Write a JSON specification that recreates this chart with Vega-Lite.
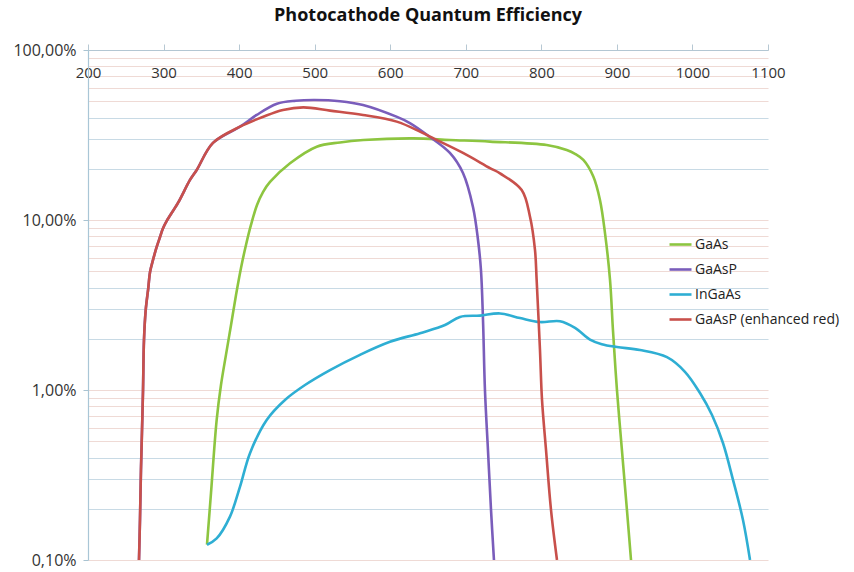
{
  "$schema": "https://vega.github.io/schema/vega-lite/v6.json",
  "autosize": {"type": "none"},
  "padding": {"left": 88, "top": 50, "right": 86, "bottom": 12},
  "width": 680,
  "height": 510,
  "background": "white",
  "title": {"text": "Photocathode Quantum Efficiency", "fontSize": 18, "fontWeight": "bold", "font": "Open Sans", "color": "#111", "anchor": "middle", "offset": 17},
  "config": {"view": {"stroke": null}},
  "data": {"values": [
    {"s": "GaAs", "wl": 357.5, "qe": 0.00123},
    {"s": "GaAs", "wl": 362.8, "qe": 0.00248},
    {"s": "GaAs", "wl": 370.3, "qe": 0.00667},
    {"s": "GaAs", "wl": 376, "qe": 0.0107},
    {"s": "GaAs", "wl": 382.6, "qe": 0.0161},
    {"s": "GaAs", "wl": 389.3, "qe": 0.0241},
    {"s": "GaAs", "wl": 395.9, "qe": 0.0362},
    {"s": "GaAs", "wl": 402.5, "qe": 0.0522},
    {"s": "GaAs", "wl": 409.1, "qe": 0.0713},
    {"s": "GaAs", "wl": 415.7, "qe": 0.0935},
    {"s": "GaAs", "wl": 423.7, "qe": 0.1226},
    {"s": "GaAs", "wl": 431.6, "qe": 0.146},
    {"s": "GaAs", "wl": 440.9, "qe": 0.1674},
    {"s": "GaAs", "wl": 467.4, "qe": 0.2156},
    {"s": "GaAs", "wl": 502.7, "qe": 0.27},
    {"s": "GaAs", "wl": 533.5, "qe": 0.286},
    {"s": "GaAs", "wl": 564.4, "qe": 0.2955},
    {"s": "GaAs", "wl": 630.5, "qe": 0.302},
    {"s": "GaAs", "wl": 679.1, "qe": 0.2955},
    {"s": "GaAs", "wl": 732, "qe": 0.289},
    {"s": "GaAs", "wl": 807.1, "qe": 0.276},
    {"s": "GaAs", "wl": 833.6, "qe": 0.258},
    {"s": "GaAs", "wl": 844.6, "qe": 0.245},
    {"s": "GaAs", "wl": 855.6, "qe": 0.2254},
    {"s": "GaAs", "wl": 868.8, "qe": 0.18},
    {"s": "GaAs", "wl": 877.6, "qe": 0.131},
    {"s": "GaAs", "wl": 884.3, "qe": 0.0835},
    {"s": "GaAs", "wl": 890.9, "qe": 0.0444},
    {"s": "GaAs", "wl": 894.8, "qe": 0.0225},
    {"s": "GaAs", "wl": 900.1, "qe": 0.00999},
    {"s": "GaAs", "wl": 906.7, "qe": 0.00441},
    {"s": "GaAs", "wl": 913.3, "qe": 0.00197},
    {"s": "GaAs", "wl": 918.7, "qe": 0.001},

    {"s": "GaAsP", "wl": 267.5, "qe": 0.001},
    {"s": "GaAsP", "wl": 268.8, "qe": 0.00172},
    {"s": "GaAsP", "wl": 270.1, "qe": 0.00339},
    {"s": "GaAsP", "wl": 271.5, "qe": 0.00582},
    {"s": "GaAsP", "wl": 272.8, "qe": 0.00987},
    {"s": "GaAsP", "wl": 274.1, "qe": 0.0197},
    {"s": "GaAsP", "wl": 276.4, "qe": 0.0296},
    {"s": "GaAsP", "wl": 279.8, "qe": 0.0398},
    {"s": "GaAsP", "wl": 282.1, "qe": 0.0494},
    {"s": "GaAsP", "wl": 286.4, "qe": 0.059},
    {"s": "GaAsP", "wl": 290.9, "qe": 0.0694},
    {"s": "GaAsP", "wl": 295.3, "qe": 0.0794},
    {"s": "GaAsP", "wl": 298.9, "qe": 0.0885},
    {"s": "GaAsP", "wl": 304.2, "qe": 0.0987},
    {"s": "GaAsP", "wl": 319.1, "qe": 0.126},
    {"s": "GaAsP", "wl": 335, "qe": 0.172},
    {"s": "GaAsP", "wl": 343.9, "qe": 0.197},
    {"s": "GaAsP", "wl": 365.4, "qe": 0.284},
    {"s": "GaAsP", "wl": 401.2, "qe": 0.354},
    {"s": "GaAsP", "wl": 423.3, "qe": 0.415},
    {"s": "GaAsP", "wl": 450.1, "qe": 0.483},
    {"s": "GaAsP", "wl": 475, "qe": 0.503},
    {"s": "GaAsP", "wl": 500, "qe": 0.508},
    {"s": "GaAsP", "wl": 533.5, "qe": 0.5},
    {"s": "GaAsP", "wl": 564, "qe": 0.475},
    {"s": "GaAsP", "wl": 609, "qe": 0.404},
    {"s": "GaAsP", "wl": 626, "qe": 0.372},
    {"s": "GaAsP", "wl": 652.6, "qe": 0.308},
    {"s": "GaAsP", "wl": 679, "qe": 0.248},
    {"s": "GaAsP", "wl": 696.3, "qe": 0.189},
    {"s": "GaAsP", "wl": 709.6, "qe": 0.119},
    {"s": "GaAsP", "wl": 716.2, "qe": 0.0763},
    {"s": "GaAsP", "wl": 720.1, "qe": 0.0508},
    {"s": "GaAsP", "wl": 722.8, "qe": 0.0258},
    {"s": "GaAsP", "wl": 725.4, "qe": 0.00994},
    {"s": "GaAsP", "wl": 729.4, "qe": 0.00441},
    {"s": "GaAsP", "wl": 733.4, "qe": 0.00197},
    {"s": "GaAsP", "wl": 737.3, "qe": 0.001},

    {"s": "InGaAs", "wl": 357.5, "qe": 0.00123},
    {"s": "InGaAs", "wl": 370.3, "qe": 0.00134},
    {"s": "InGaAs", "wl": 387.9, "qe": 0.0018},
    {"s": "InGaAs", "wl": 401.2, "qe": 0.0027},
    {"s": "InGaAs", "wl": 414.4, "qe": 0.00425},
    {"s": "InGaAs", "wl": 436.5, "qe": 0.00667},
    {"s": "InGaAs", "wl": 460.7, "qe": 0.00874},
    {"s": "InGaAs", "wl": 487.2, "qe": 0.0107},
    {"s": "InGaAs", "wl": 520.3, "qe": 0.0131},
    {"s": "InGaAs", "wl": 560, "qe": 0.0161},
    {"s": "InGaAs", "wl": 599.7, "qe": 0.0192},
    {"s": "InGaAs", "wl": 639.4, "qe": 0.0216},
    {"s": "InGaAs", "wl": 672.5, "qe": 0.0241},
    {"s": "InGaAs", "wl": 692.3, "qe": 0.0269},
    {"s": "InGaAs", "wl": 718.8, "qe": 0.0274},
    {"s": "InGaAs", "wl": 745.3, "qe": 0.0282},
    {"s": "InGaAs", "wl": 771.8, "qe": 0.0265},
    {"s": "InGaAs", "wl": 798.2, "qe": 0.0251},
    {"s": "InGaAs", "wl": 824.7, "qe": 0.0254},
    {"s": "InGaAs", "wl": 844.6, "qe": 0.0232},
    {"s": "InGaAs", "wl": 864.4, "qe": 0.0198},
    {"s": "InGaAs", "wl": 880, "qe": 0.0186},
    {"s": "InGaAs", "wl": 900.1, "qe": 0.0179},
    {"s": "InGaAs", "wl": 930.6, "qe": 0.0172},
    {"s": "InGaAs", "wl": 966.3, "qe": 0.0156},
    {"s": "InGaAs", "wl": 990.1, "qe": 0.0128},
    {"s": "InGaAs", "wl": 1010, "qe": 0.0096},
    {"s": "InGaAs", "wl": 1025.9, "qe": 0.00713},
    {"s": "InGaAs", "wl": 1040.4, "qe": 0.00488},
    {"s": "InGaAs", "wl": 1053.7, "qe": 0.00296},
    {"s": "InGaAs", "wl": 1066.9, "qe": 0.00172},
    {"s": "InGaAs", "wl": 1076.2, "qe": 0.001},

    {"s": "GaAsP (enhanced red)", "wl": 267.5, "qe": 0.001},
    {"s": "GaAsP (enhanced red)", "wl": 268.8, "qe": 0.00172},
    {"s": "GaAsP (enhanced red)", "wl": 270.1, "qe": 0.00339},
    {"s": "GaAsP (enhanced red)", "wl": 271.5, "qe": 0.00582},
    {"s": "GaAsP (enhanced red)", "wl": 272.8, "qe": 0.00987},
    {"s": "GaAsP (enhanced red)", "wl": 274.1, "qe": 0.0197},
    {"s": "GaAsP (enhanced red)", "wl": 276.4, "qe": 0.0296},
    {"s": "GaAsP (enhanced red)", "wl": 279.8, "qe": 0.0398},
    {"s": "GaAsP (enhanced red)", "wl": 282.1, "qe": 0.0494},
    {"s": "GaAsP (enhanced red)", "wl": 286.4, "qe": 0.059},
    {"s": "GaAsP (enhanced red)", "wl": 290.9, "qe": 0.0694},
    {"s": "GaAsP (enhanced red)", "wl": 295.3, "qe": 0.0794},
    {"s": "GaAsP (enhanced red)", "wl": 298.9, "qe": 0.0885},
    {"s": "GaAsP (enhanced red)", "wl": 304.2, "qe": 0.0987},
    {"s": "GaAsP (enhanced red)", "wl": 319.1, "qe": 0.126},
    {"s": "GaAsP (enhanced red)", "wl": 335, "qe": 0.172},
    {"s": "GaAsP (enhanced red)", "wl": 343.9, "qe": 0.197},
    {"s": "GaAsP (enhanced red)", "wl": 365.4, "qe": 0.284},
    {"s": "GaAsP (enhanced red)", "wl": 401.2, "qe": 0.354},
    {"s": "GaAsP (enhanced red)", "wl": 432, "qe": 0.405},
    {"s": "GaAsP (enhanced red)", "wl": 458, "qe": 0.444},
    {"s": "GaAsP (enhanced red)", "wl": 485, "qe": 0.46},
    {"s": "GaAsP (enhanced red)", "wl": 520.3, "qe": 0.44},
    {"s": "GaAsP (enhanced red)", "wl": 564, "qe": 0.415},
    {"s": "GaAsP (enhanced red)", "wl": 608.6, "qe": 0.379},
    {"s": "GaAsP (enhanced red)", "wl": 639.4, "qe": 0.331},
    {"s": "GaAsP (enhanced red)", "wl": 652.6, "qe": 0.309},
    {"s": "GaAsP (enhanced red)", "wl": 696.3, "qe": 0.248},
    {"s": "GaAsP (enhanced red)", "wl": 732, "qe": 0.202},
    {"s": "GaAsP (enhanced red)", "wl": 745.3, "qe": 0.188},
    {"s": "GaAsP (enhanced red)", "wl": 774, "qe": 0.15},
    {"s": "GaAsP (enhanced red)", "wl": 785, "qe": 0.1046},
    {"s": "GaAsP (enhanced red)", "wl": 791.6, "qe": 0.0667},
    {"s": "GaAsP (enhanced red)", "wl": 793.8, "qe": 0.0444},
    {"s": "GaAsP (enhanced red)", "wl": 798.2, "qe": 0.0172},
    {"s": "GaAsP (enhanced red)", "wl": 800.9, "qe": 0.00874},
    {"s": "GaAsP (enhanced red)", "wl": 806.2, "qe": 0.00444},
    {"s": "GaAsP (enhanced red)", "wl": 812.8, "qe": 0.00197},
    {"s": "GaAsP (enhanced red)", "wl": 820.7, "qe": 0.001}
  ]},
  "mark": {"type": "line", "interpolate": "catmull-rom", "strokeWidth": 2.6, "clip": true},
  "encoding": {
    "x": {
      "field": "wl", "type": "quantitative",
      "scale": {"domain": [200, 1100], "nice": false, "zero": false},
      "axis": {
        "orient": "top", "title": null, "grid": false, "format": "d",
        "values": [200, 300, 400, 500, 600, 700, 800, 900, 1000, 1100],
        "tickSize": 6, "tickColor": "#b7c8d3", "domainColor": "#b3c7d3", "domainWidth": 1.2,
        "labelPadding": -36, "labelFontSize": 15, "labelFont": "Open Sans", "labelColor": "#333333",
        "labelFlush": false, "labelOverlap": false
      }
    },
    "y": {
      "field": "qe", "type": "quantitative",
      "scale": {"type": "log", "domain": [0.001, 1], "nice": false},
      "axis": {
        "orient": "left", "title": null,
        "values": [0.001, 0.002, 0.003, 0.004, 0.005, 0.006, 0.007, 0.008, 0.009,
                   0.01, 0.02, 0.03, 0.04, 0.05, 0.06, 0.07, 0.08, 0.09,
                   0.1, 0.2, 0.3, 0.4, 0.5, 0.6, 0.7, 0.8, 0.9, 1],
        "labelExpr": "indexof([0.001, 0.01, 0.1, 1], datum.value) >= 0 ? replace(format(datum.value, '.2%'), '.', ',') : ''",
        "labelFontSize": 16, "labelFont": "Open Sans", "labelColor": "#333333", "labelPadding": 7,
        "labelOverlap": false, "labelFlush": false,
        "tickSize": 5, "tickColor": "#a9c3d1",
        "tickOpacity": {"condition": {"test": "indexof([0.001, 0.01, 0.1, 1], datum.value) >= 0", "value": 1}, "value": 0},
        "domainColor": "#a9c6d6", "domainWidth": 1.2,
        "grid": true, "gridWidth": 1.2,
        "gridColor": {"condition": {"test": "(datum.value / pow(10, floor(log(datum.value) / LN10 + 1e-9))) > 4.5 || (datum.value / pow(10, floor(log(datum.value) / LN10 + 1e-9))) < 1.5", "value": "#efdad5"}, "value": "#c8dae5"}
      }
    },
    "color": {
      "field": "s", "type": "nominal",
      "scale": {"domain": ["GaAs", "GaAsP", "InGaAs", "GaAsP (enhanced red)"], "range": ["#8dc540", "#7a5dbb", "#2eaed3", "#c8504b"]},
      "legend": {
        "title": null, "orient": "none", "legendX": 580, "legendY": 182,
        "symbolType": "stroke", "symbolSize": 484, "symbolStrokeWidth": 2.6,
        "labelFontSize": 14, "labelFont": "Open Sans", "labelColor": "#222222",
        "labelOffset": 2, "rowPadding": 5, "padding": 0
      }
    }
  }
}
